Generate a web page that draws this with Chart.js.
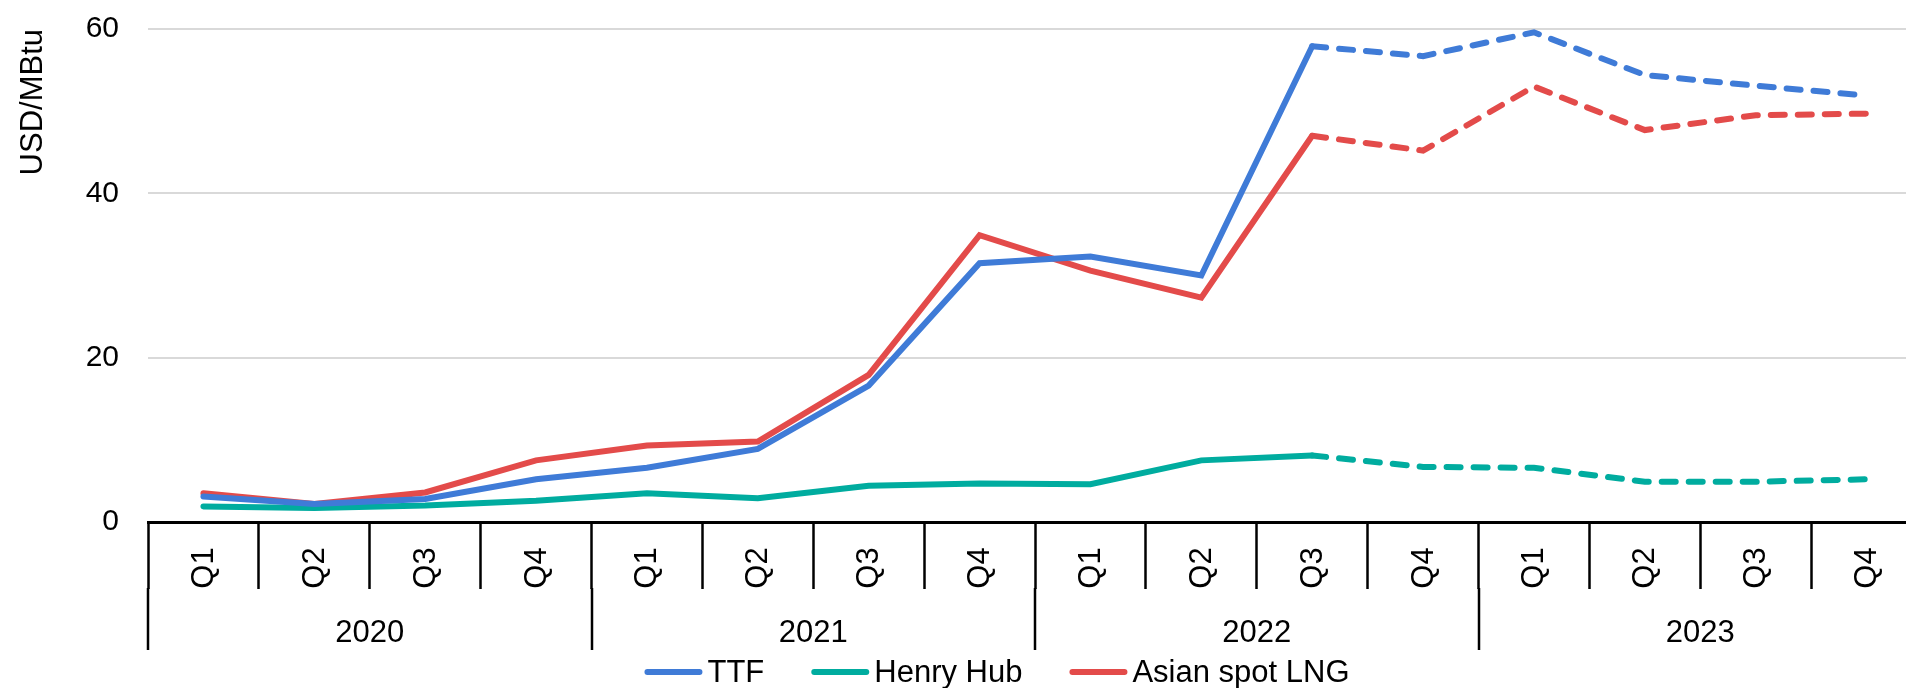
<!DOCTYPE html>
<html>
<head>
<meta charset="utf-8">
<script src="https://cdn.jsdelivr.net/npm/chart.js@4.4.1/dist/chart.umd.min.js"></script>
<style>
    html, body { margin: 0; padding: 0; background: #fff; overflow: hidden; }
    #wrap { position: relative; width: 1924px; height: 688px; }
</style>
</head>
<body>
<div id="wrap"><canvas id="grafico"></canvas></div>
<script>
// Dados do gráfico (USD/MBtu, por trimestre)
const trimestres = ['Q1', 'Q2', 'Q3', 'Q4', 'Q1', 'Q2', 'Q3', 'Q4', 'Q1', 'Q2', 'Q3', 'Q4', 'Q1', 'Q2', 'Q3', 'Q4'];
const anos = ['2020', '2021', '2022', '2023'];
const ttf = [3.1, 2.2, 2.8, 5.2, 6.6, 8.9, 16.6, 31.5, 32.3, 30.0, 57.9, 56.7, 59.6, 54.4, 53.1, 51.9];
const henryHub = [1.9, 1.7, 2.0, 2.6, 3.5, 2.9, 4.4, 4.7, 4.6, 7.5, 8.1, 6.7, 6.6, 4.9, 4.9, 5.2];
const asianLng = [3.5, 2.2, 3.6, 7.5, 9.3, 9.8, 17.9, 34.9, 30.6, 27.3, 47.0, 45.2, 53.0, 47.7, 49.5, 49.7];
const yTicks = [0, 20, 40, 60];

// a partir do Q3 2022 a linha fica tracejada (projeção)
const inicioProjecao = 10;

const familia = "'Liberation Sans', Arial, sans-serif";
const fonteY = { family: familia, size: 30 };
const fonteCss = '31px ' + familia;

function serie(label, data, cor) {
    return {
        label: label,
        data: data,
        borderColor: cor,
        backgroundColor: cor,
        borderWidth: 6,
        borderCapStyle: 'round',
        pointRadius: 0,
        pointHoverRadius: 0,
        tension: 0,
        segment: {
            borderDash: ctx => ctx.p0DataIndex >= inicioProjecao ? [14, 13] : undefined
        }
    };
}

// Rótulos do eixo x em dois níveis (trimestre / ano) e legenda
const eixoDuplo = {
    id: 'eixoDuplo',
    afterDraw(chart) {
        const ctx = chart.ctx;
        const x = chart.scales.x;
        const topo = x.top;
        const largura = x.getPixelForValue(1) - x.getPixelForValue(0);
        ctx.save();
        ctx.fillStyle = '#000';
        ctx.font = fonteCss;
        ctx.textAlign = 'center';
        ctx.textBaseline = 'middle';

        // trimestres, girados
        trimestres.forEach((t, i) => {
            ctx.save();
            ctx.translate(x.getPixelForValue(i), topo + 46);
            ctx.rotate(-Math.PI / 2);
            ctx.fillText(t, 0, 1);
            ctx.restore();
        });

        // separadores dos anos
        ctx.strokeStyle = '#000';
        ctx.lineWidth = 2.5;
        for (let k = 0; k <= anos.length; k++) {
            const px = Math.round(x.getPixelForValue(k * 4) - largura / 2);
            ctx.beginPath();
            ctx.moveTo(px, topo + 66);
            ctx.lineTo(px, topo + 128);
            ctx.stroke();
        }

        // anos
        anos.forEach((a, k) => {
            const cx = (x.getPixelForValue(k * 4) + x.getPixelForValue(k * 4 + 3)) / 2;
            ctx.fillText(a, cx, topo + 111);
        });

        // legenda
        const linha = 58, espaco = 5, entre = 47;
        const itens = chart.data.datasets.map(ds => ({ texto: ds.label, cor: ds.borderColor, w: ctx.measureText(ds.label).width }));
        const total = itens.reduce((s, it) => s + linha + espaco + it.w, 0) + entre * (itens.length - 1);
        let cursor = 997 - total / 2;
        const yLeg = 672;
        ctx.textAlign = 'left';
        ctx.lineCap = 'round';
        ctx.lineWidth = 6;
        itens.forEach(it => {
            ctx.strokeStyle = it.cor;
            ctx.beginPath();
            ctx.moveTo(cursor + 3, yLeg);
            ctx.lineTo(cursor + linha - 3, yLeg);
            ctx.stroke();
            ctx.fillText(it.texto, cursor + linha + espaco, yLeg + 1);
            cursor += linha + espaco + it.w + entre;
        });
        ctx.restore();
    }
};

const config = {
    type: 'line',
    data: {
        labels: trimestres,
        datasets: [
            serie('TTF', ttf, '#3F7BD7'),
            serie('Henry Hub', henryHub, '#00AC9F'),
            serie('Asian spot LNG', asianLng, '#E34B4A')
        ]
    },
    options: {
        responsive: true,
        maintainAspectRatio: false,
        animation: false,
        layout: { padding: { top: 29, right: 2, left: 0, bottom: 35 } },
        plugins: {
            tooltip: { enabled: false },
            legend: { display: false }
        },
        scales: {
            x: {
                type: 'category',
                offset: true,
                border: { display: true, color: '#000', width: 3 },
                grid: {
                    offset: true,
                    drawOnChartArea: false,
                    drawTicks: true,
                    tickLength: 67,
                    tickWidth: 2.5,
                    tickColor: '#000',
                    color: '#000'
                },
                ticks: { display: false, autoSkip: false },
                afterFit: scale => { scale.height = 131; }
            },
            y: {
                min: yTicks[0],
                max: yTicks[yTicks.length - 1],
                border: { display: false },
                grid: { color: '#D9D9D9', lineWidth: 2, drawTicks: true, tickLength: 29, tickColor: 'rgba(0,0,0,0)' },
                afterBuildTicks: axis => { axis.ticks = yTicks.map(v => ({ value: v })); },
                ticks: { padding: 0, color: '#000', font: fonteY },
                title: {
                    display: true,
                    text: 'USD/MBtu',
                    align: 'end',
                    color: '#000',
                    font: { family: familia, size: 31 },
                    padding: { top: 15, bottom: 10 }
                },
                afterFit: scale => { scale.width = 148; }
            }
        }
    },
    plugins: [eixoDuplo]
};

new Chart(document.getElementById('grafico'), config);
</script>
</body>
</html>
